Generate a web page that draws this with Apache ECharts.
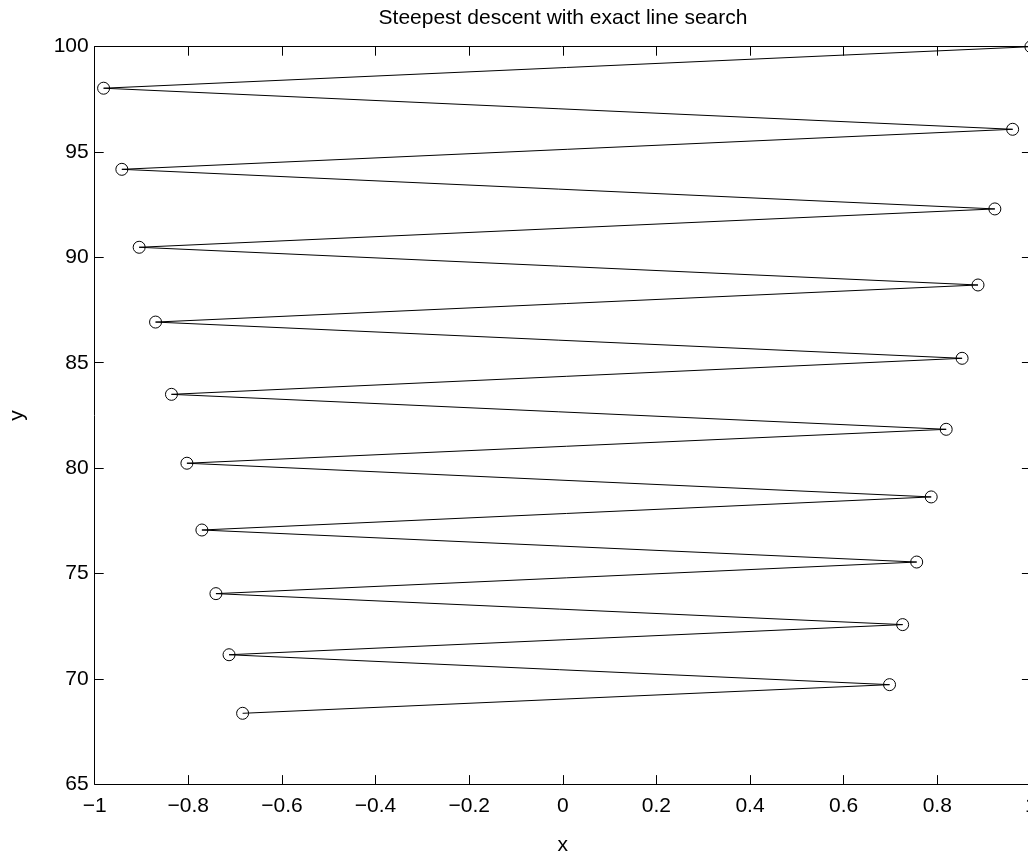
<!DOCTYPE html>
<html>
<head>
<meta charset="utf-8">
<script src="https://cdn.jsdelivr.net/npm/echarts@6/dist/echarts.min.js"></script>
<style>
  html, body { margin: 0; padding: 0; background: #fff; }
  #chart { width: 1028px; height: 852px; }
</style>
</head>
<body>
<div id="chart"></div>
<script>
// Iterates of steepest descent
var xValues = [1, -0.981, 0.961, -0.942, 0.923, -0.905, 0.887, -0.870, 0.853, -0.836,
               0.819, -0.803, 0.787, -0.771, 0.756, -0.741, 0.726, -0.713, 0.698, -0.684];
var yValues = [100, 98.03, 96.08, 94.18, 92.30, 90.48, 88.69, 86.93, 85.21, 83.50,
               81.84, 80.23, 78.63, 77.06, 75.54, 74.04, 72.57, 71.14, 69.72, 68.36];
var xTicks = [-1, -0.8, -0.6, -0.4, -0.2, 0, 0.2, 0.4, 0.6, 0.8, 1];
var yTicks = [65, 70, 75, 80, 85, 90, 95, 100];
var titleText = 'Steepest descent with exact line search';
var xName = 'x';
var yName = 'y';

var FONT = '"Liberation Sans", Arial, Helvetica, sans-serif';
var points = xValues.map(function (x, i) { return [x, yValues[i]]; });

function fmt(v) {
  var s = String(Math.round(v * 10) / 10);
  return s.replace('-', '\u2212');
}

var chart = echarts.init(document.getElementById('chart'), null, { renderer: 'canvas' });

var axisLine = { show: true, onZero: false, lineStyle: { color: '#000', width: 1 } };
var tick = { show: true, inside: true, length: 9, lineStyle: { color: '#000', width: 1 } };

chart.setOption({
  animation: false,
  backgroundColor: '#fff',
  title: {
    text: titleText,
    left: 563,
    textAlign: 'center',
    top: 8,
    padding: 0,
    textStyle: { fontFamily: FONT, fontSize: 21, fontWeight: 'normal', color: '#000' }
  },
  grid: { left: 94.7, top: 46.7, width: 936.2, height: 737.4, containLabel: false, outerBoundsMode: 'none' },
  xAxis: [{
    type: 'value',
    position: 'bottom',
    min: xTicks[0], max: xTicks[xTicks.length - 1], interval: 0.2,
    axisLine: axisLine, axisTick: tick,
    splitLine: { show: false },
    axisLabel: { margin: 12, fontFamily: FONT, fontSize: 21, color: '#000', formatter: fmt, showMaxLabel: true, showMinLabel: true },
    name: xName, nameLocation: 'middle', nameGap: 51,
    nameTextStyle: { fontFamily: FONT, fontSize: 21, color: '#000' }
  }, {
    type: 'value',
    position: 'top',
    min: xTicks[0], max: xTicks[xTicks.length - 1], interval: 0.2,
    axisLine: axisLine, axisTick: tick,
    splitLine: { show: false },
    axisLabel: { show: false }
  }],
  yAxis: [{
    type: 'value',
    position: 'left',
    min: yTicks[0], max: yTicks[yTicks.length - 1], interval: 5,
    axisLine: axisLine, axisTick: tick,
    splitLine: { show: false },
    axisLabel: { margin: 6, padding: [3, 0, 0, 0], fontFamily: FONT, fontSize: 21, color: '#000', formatter: fmt },
    name: yName, nameLocation: 'middle', nameGap: 67, nameRotate: 90,
    nameTextStyle: { fontFamily: FONT, fontSize: 21, color: '#000' }
  }, {
    type: 'value',
    position: 'right',
    min: yTicks[0], max: yTicks[yTicks.length - 1], interval: 5,
    axisLine: axisLine, axisTick: tick,
    splitLine: { show: false },
    axisLabel: { show: false }
  }],
  series: [{
    type: 'line',
    data: points,
    xAxisIndex: 0, yAxisIndex: 0,
    clip: false,
    symbol: 'circle',
    symbolSize: 12,
    showAllSymbol: true,
    lineStyle: { color: '#000', width: 1 },
    itemStyle: { color: 'rgba(0,0,0,0)', borderColor: '#000', borderWidth: 1 },
    emphasis: { disabled: true }
  }]
});
</script>
</body>
</html>
